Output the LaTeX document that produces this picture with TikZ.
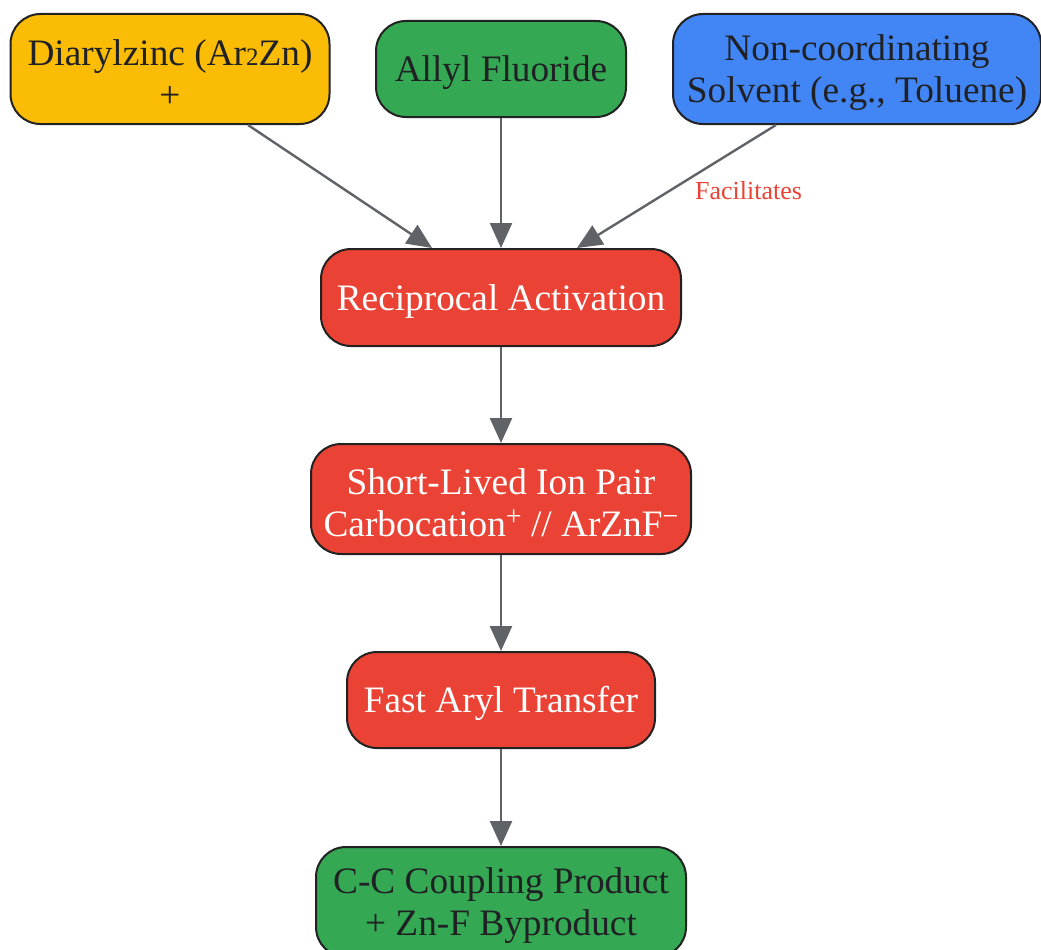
\documentclass[tikz,border=0pt]{standalone}
\usepackage{fontspec}
\setmainfont{Liberation Serif}
\usetikzlibrary{arrows.meta,calc}
\definecolor{cyellow}{HTML}{FBBC05}
\definecolor{cgreen}{HTML}{34A853}
\definecolor{cblue}{HTML}{4285F4}
\definecolor{cred}{HTML}{EA4335}
\definecolor{ctext}{HTML}{202124}
\definecolor{cline}{HTML}{5F6368}
\definecolor{cborder}{HTML}{222222}
\newcommand{\subtwo}{{\fontsize{25}{25}\selectfont 2}}
\newcommand{\supch}[1]{\raisebox{11pt}{\fontsize{28}{28}\selectfont #1}}
\newcommand{\tp}{\rule{0pt}{34pt}}
\tikzset{
  box/.style={draw=cborder, line width=2pt, rounded corners=30pt, align=center,
    font=\fontsize{37.3}{42}\selectfont, inner sep=0pt, text=ctext},
  redbox/.style={box, fill=cred, text=white},
  conn/.style={draw=cline, line width=2.4pt, -{Triangle[length=25pt,width=22pt]}},
  lbl/.style={font=\fontsize{26}{28}\selectfont, text=cred}
}
\begin{document}
\begin{tikzpicture}[x=1pt,y=-1pt]
\useasboundingbox (0,0) rectangle (1041,950);
\node[box, fill=cyellow, minimum width=319pt, minimum height=110pt] (dz) at (170,69) {\tp Diarylzinc (Ar\subtwo Zn)\\+};
\node[box, fill=cgreen, minimum width=250pt, minimum height=96pt] (af) at (501,69) {\tp Allyl Fluoride};
\node[box, fill=cblue, minimum width=368pt, minimum height=110pt] (sv) at (857,69) {\tp Non-coordinating\\Solvent (e.g., Toluene)};
\node[redbox, minimum width=360pt, minimum height=97pt] (ra) at (501,297.5) {\tp Reciprocal Activation};
\node[redbox, minimum width=380pt, minimum height=110pt] (ip) at (501,499) {\tp Short-Lived Ion Pair\\Carbocation\supch{+} // ArZnF\supch{−}};
\node[redbox, minimum width=308pt, minimum height=96pt] (ft) at (501,700) {\tp Fast Aryl Transfer};
\node[box, fill=cgreen, minimum width=370pt, minimum height=110pt] (cc) at (501,902) {\tp C-C Coupling Product\\+ Zn-F Byproduct};
\draw[conn] ([xshift=78pt]dz.south) -- ([xshift=-69pt]ra.north);
\draw[conn] (af.south) -- (ra.north);
\draw[conn] ([xshift=-81pt]sv.south) -- node[lbl, pos=0.53, anchor=west, xshift=20pt] (fl) {Facilitates} ([xshift=76pt]ra.north);
\draw[conn] (ra.south) -- (ip.north);
\draw[conn] (ip.south) -- (ft.north);
\draw[conn] (ft.south) -- (cc.north);
\end{tikzpicture}
\end{document}
